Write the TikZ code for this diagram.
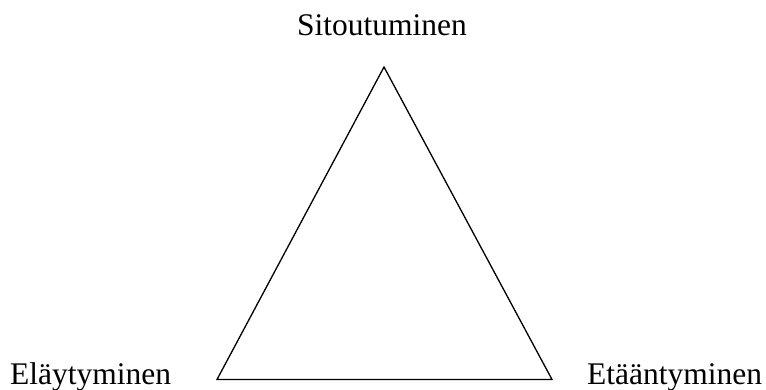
\documentclass[tikz,border=0pt]{standalone}
\usepackage{fontspec}
\setmainfont{Liberation Serif}
\begin{document}
\begin{tikzpicture}[x=1pt,y=-1pt,
  lbl/.style={inner sep=0pt,font=\fontsize{31.5}{36}\selectfont},
  edge/.style={draw=black,line width=1.3pt,line join=miter}]
\useasboundingbox (0,0) rectangle (766,390);
\coordinate (top) at (384,67);
\coordinate (bl) at (217,379.5);
\coordinate (br) at (552,379.5);
\draw[edge] (top) -- (bl) -- (br) -- cycle;
\node[lbl,anchor=base] (s) at (382,36) {Sitoutuminen};
\node[lbl,anchor=base west] (e1) at (10,384) {Eläytyminen};
\node[lbl,anchor=base west] (e2) at (587,384) {Etääntyminen};
\end{tikzpicture}
\end{document}
